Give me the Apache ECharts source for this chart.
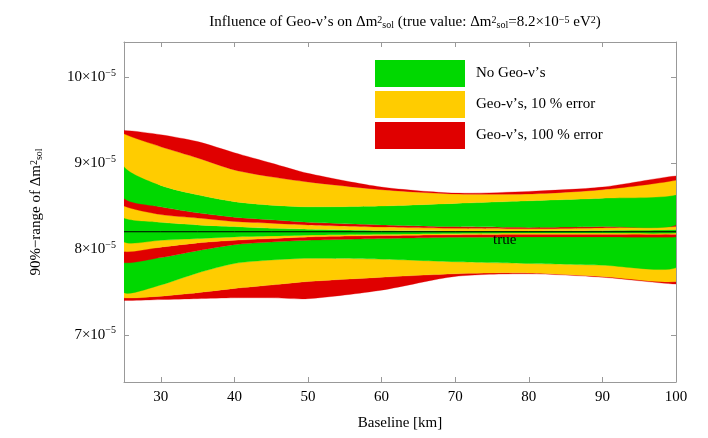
<!DOCTYPE html>
<html><head><meta charset="utf-8">
<script src="https://cdn.jsdelivr.net/npm/echarts@6/dist/echarts.min.js"></script>
<style>html,body{margin:0;padding:0;background:#fff}#c{width:708px;height:438px}</style>
</head><body><div id="c"></div>
<script>
const baseline = [25,30,35,40,45,50,60,70,80,90,100];
const trueValue = 8.2;
const redTop        = [9.38,9.33,9.25,9.12,9.00,8.88,8.72,8.65,8.67,8.72,8.85];
const yellowTop     = [9.34,9.19,9.06,8.92,8.84,8.78,8.69,8.64,8.64,8.69,8.80];
const greenTop      = [8.96,8.74,8.63,8.55,8.51,8.49,8.50,8.53,8.56,8.59,8.63];
const innerRedTop   = [8.59,8.49,8.42,8.37,8.34,8.31,8.28,8.26,8.25,8.26,8.28];
const innerYellowTop= [8.50,8.40,8.36,8.32,8.30,8.28,8.255,8.24,8.235,8.245,8.26];
const innerGreenTop = [8.36,8.31,8.28,8.26,8.24,8.23,8.215,8.21,8.21,8.215,8.225];
const innerGreenBot = [8.08,8.10,8.12,8.14,8.15,8.16,8.17,8.18,8.185,8.185,8.185];
const innerYellowBot= [7.97,8.02,8.07,8.10,8.12,8.14,8.155,8.165,8.17,8.17,8.17];
const innerRedBot   = [7.84,7.90,7.98,8.05,8.08,8.10,8.12,8.135,8.14,8.14,8.14];
const greenBot      = [7.49,7.58,7.72,7.83,7.87,7.89,7.88,7.85,7.83,7.81,7.78];
const yellowBot     = [7.43,7.45,7.49,7.54,7.58,7.62,7.67,7.71,7.72,7.68,7.62];
const redBot        = [7.40,7.41,7.42,7.43,7.43,7.42,7.52,7.68,7.71,7.67,7.59];
const yTicks = [7,8,9,10];
const xTicks = [30,40,50,60,70,80,90,100];
const names = ['No Geo-\u03bd\u2019s','Geo-\u03bd\u2019s, 10 % error','Geo-\u03bd\u2019s, 100 % error'];
const GREEN='#00d800', YELLOW='#ffcc00', RED='#e00000';
const legendColors = [GREEN, YELLOW, RED];

const bounds = [redBot,yellowBot,greenBot,innerRedBot,innerYellowBot,innerGreenBot,innerGreenTop,innerYellowTop,innerRedTop,greenTop,yellowTop,redTop];
const bandColors = [RED,YELLOW,GREEN,RED,YELLOW,GREEN,YELLOW,RED,GREEN,YELLOW,RED];
const FONT='Liberation Serif';

function bandSeries(k){
  const lo = bounds[k], hi = bounds[k+1], col = bandColors[k];
  return {type:'custom', silent:true, z:3, clip:true,
    data: baseline.map((x,i)=>[x, lo[i], hi[i]]),
    encode:{x:0, y:[1,2]},
    renderItem:(params, api)=>{
      if(params.dataIndex!==0) return null;
      const pts = [];
      for(let i=0;i<baseline.length;i++) pts.push(api.coord([baseline[i],hi[i]]));
      for(let i=baseline.length-1;i>=0;i--) pts.push(api.coord([baseline[i],lo[i]]));
      return {type:'polygon', shape:{points:pts, smooth:0.25},
        style:{fill:col, stroke:col, lineWidth:0.3}};
    }};
}
const series = [];
for(let k=0;k<bandColors.length;k++) series.push(bandSeries(k));
names.forEach((n,i)=>series.push({type:'line',name:n,data:[],itemStyle:{color:legendColors[i]},lineStyle:{color:legendColors[i]}}));
series.push({type:'line', data: baseline.map(x=>[x,trueValue]), symbol:'none', z:5,
  lineStyle:{color:'#000',width:1}, silent:true});
const chart = echarts.init(document.getElementById('c'));
const fmt = v => v+'\u00d710{s|\u22125}';
const rich = {p:{fontSize:10,fontFamily:FONT,verticalAlign:'top'},b:{fontSize:10,fontFamily:FONT,verticalAlign:'bottom'}};
chart.setOption({
  animation:false,
  textStyle:{fontFamily:FONT},
  title:{left:400,textAlign:'center',top:10,
    text:'Influence of Geo-\u03bd\u2019s on \u0394m{p|2}{b|sol} (true value: \u0394m{p|2}{b|sol}=8.2\u00d710{p|\u22125} eV{p|2})',
    textStyle:{fontFamily:FONT,fontWeight:'normal',fontSize:15,color:'#000',rich}},
  legend:{orient:'vertical',left:370,top:55,itemWidth:90,itemHeight:27,itemGap:4,icon:'rect',
    data:names, selectedMode:false, textStyle:{fontFamily:FONT,fontSize:15,color:'#000',padding:[0,0,0,6]}},
  grid:{left:124,right:32,top:42,bottom:56},
  xAxis:[{type:'value',min:25,max:100,name:'Baseline [km]',nameLocation:'middle',nameGap:34,
    nameTextStyle:{fontFamily:FONT,fontSize:15,color:'#000'},
    axisLine:{lineStyle:{color:'#999'}},axisTick:{customValues:xTicks,inside:true,length:5,lineStyle:{color:'#999'}},
    axisLabel:{customValues:xTicks,fontFamily:FONT,fontSize:15,color:'#000'},splitLine:{show:false}},
    {type:'value',min:25,max:100,position:'top',axisLine:{lineStyle:{color:'#999'}},
    axisTick:{customValues:xTicks,inside:true,length:5,lineStyle:{color:'#999'}},axisLabel:{show:false},splitLine:{show:false}}],
  yAxis:[{type:'value',min:6.45,max:10.41,
    name:'90%\u2212range of \u0394m{p|2}{b|sol}',nameLocation:'middle',nameGap:80,nameRotate:90,
    nameTextStyle:{fontFamily:FONT,fontSize:15,color:'#000',rich},
    axisLine:{show:true,lineStyle:{color:'#999'}},axisTick:{customValues:yTicks,inside:true,length:5,lineStyle:{color:'#999'}},
    axisLabel:{customValues:yTicks,formatter:fmt,fontFamily:FONT,fontSize:15,color:'#000',
      rich:{s:{fontSize:10,fontFamily:FONT,verticalAlign:'top',padding:[0,0,8,0]}}},splitLine:{show:false}},
    {type:'value',min:6.45,max:10.41,position:'right',axisLine:{show:true,lineStyle:{color:'#999'}},
    axisTick:{customValues:yTicks,inside:true,length:5,lineStyle:{color:'#999'}},axisLabel:{show:false},splitLine:{show:false}}],
  graphic:[{type:'text',left:493,top:233,style:{text:'true',font:'15px "Liberation Serif"',fill:'#000'},z:10}],
  series
});
</script></body></html>
